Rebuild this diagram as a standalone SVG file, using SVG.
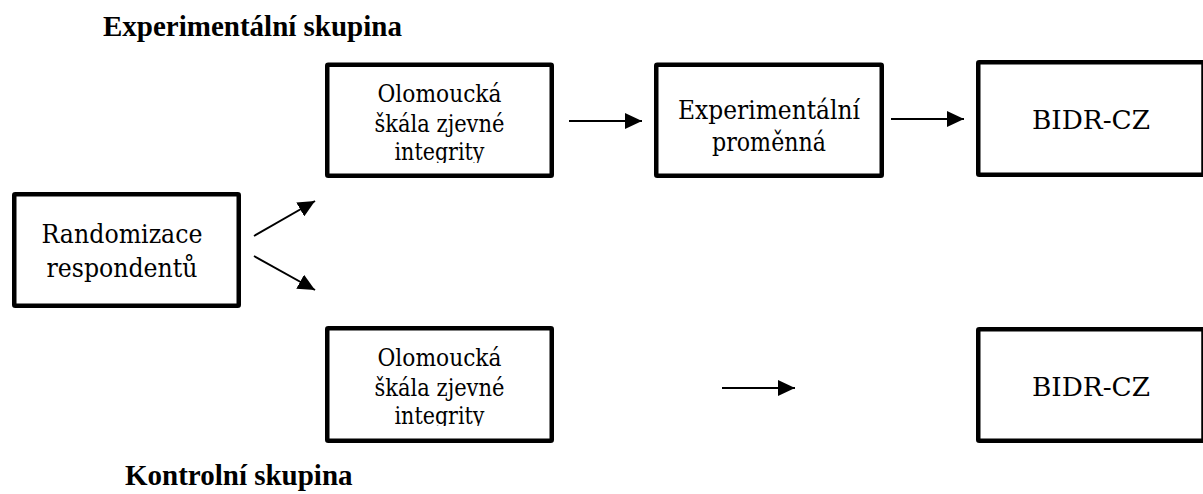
<svg xmlns="http://www.w3.org/2000/svg" width="1203" height="494" viewBox="0 0 1203 494">
  <style>
    .box { fill: #ffffff; stroke: #000000; stroke-width: 4.5; }
    .t { font-family: 'DejaVu Serif', 'Liberation Serif', serif; fill: #000000; text-anchor: middle; font-weight: normal; }
    .t29 { font-size: 26.5px; }
    .t26 { font-size: 24px; }
    .title { font-family: 'Liberation Serif', 'DejaVu Serif', serif; fill: #000000; font-weight: bold; font-size: 29px; }
    .conn { stroke: #000000; stroke-width: 2; fill: none; marker-end: url(#ah); }
  </style>
  <defs>
    <marker id="ah" markerUnits="userSpaceOnUse" markerWidth="18" markerHeight="16" refX="17" refY="8" orient="auto">
      <path d="M0,0 L17,8 L0,16 z" fill="#000000"/>
    </marker>
    <clipPath id="clipTop"><rect x="300" y="40" width="280" height="123"/></clipPath>
    <clipPath id="clipBot"><rect x="300" y="300" width="280" height="126"/></clipPath>
  </defs>
  <rect width="1203" height="494" fill="#ffffff"/>

  <text class="title" x="103" y="36">Experimentální skupina</text>
  <text class="title" x="125" y="485">Kontrolní skupina</text>

  <g id="randomizace">
    <rect class="box" x="14.25" y="194.25" width="224.5" height="111.5" rx="1"/>
    <text class="t t29" x="122" y="243" textLength="161" lengthAdjust="spacingAndGlyphs">Randomizace</text>
    <text class="t t29" x="122" y="277" textLength="151" lengthAdjust="spacingAndGlyphs">respondentů</text>
  </g>

  <g id="olomoucka-exp">
    <rect class="box" x="327.25" y="64.75" width="224.5" height="111" rx="1"/>
    <g clip-path="url(#clipTop)">
      <text class="t t26" x="439.5" y="102" textLength="124" lengthAdjust="spacingAndGlyphs">Olomoucká</text>
      <text class="t t26" x="439.5" y="132" textLength="130" lengthAdjust="spacingAndGlyphs">škála zjevné</text>
      <text class="t t26" x="439.5" y="160" textLength="90" lengthAdjust="spacingAndGlyphs">integrity</text>
    </g>
  </g>

  <g id="experimentalni-promenna">
    <rect class="box" x="656.25" y="64.75" width="225.5" height="111" rx="1"/>
    <text class="t t29" x="769" y="119" textLength="182" lengthAdjust="spacingAndGlyphs">Experimentální</text>
    <text class="t t29" x="769" y="151" textLength="114" lengthAdjust="spacingAndGlyphs">proměnná</text>
  </g>

  <g id="bidr-exp">
    <rect class="box" x="978.25" y="62.25" width="225.25" height="112.5" rx="1"/>
    <text class="t t29" x="1091" y="129" textLength="118" lengthAdjust="spacingAndGlyphs">BIDR-CZ</text>
  </g>

  <g id="olomoucka-kontrol">
    <rect class="box" x="327.25" y="328.25" width="224.5" height="112.5" rx="1"/>
    <g clip-path="url(#clipBot)">
      <text class="t t26" x="439.5" y="366" textLength="124" lengthAdjust="spacingAndGlyphs">Olomoucká</text>
      <text class="t t26" x="439.5" y="396" textLength="130" lengthAdjust="spacingAndGlyphs">škála zjevné</text>
      <text class="t t26" x="439.5" y="424" textLength="90" lengthAdjust="spacingAndGlyphs">integrity</text>
    </g>
  </g>

  <g id="bidr-kontrol">
    <rect class="box" x="978.25" y="329.25" width="225.25" height="111.5" rx="1"/>
    <text class="t t29" x="1091" y="396" textLength="118" lengthAdjust="spacingAndGlyphs">BIDR-CZ</text>
  </g>

  <g id="connectors">
    <line class="conn" x1="254" y1="236" x2="315" y2="201"/>
    <line class="conn" x1="254" y1="256" x2="315" y2="290"/>
    <line class="conn" x1="569" y1="121" x2="642" y2="121"/>
    <line class="conn" x1="891" y1="119" x2="964" y2="119"/>
    <line class="conn" x1="722" y1="388" x2="795" y2="388"/>
  </g>
</svg>
